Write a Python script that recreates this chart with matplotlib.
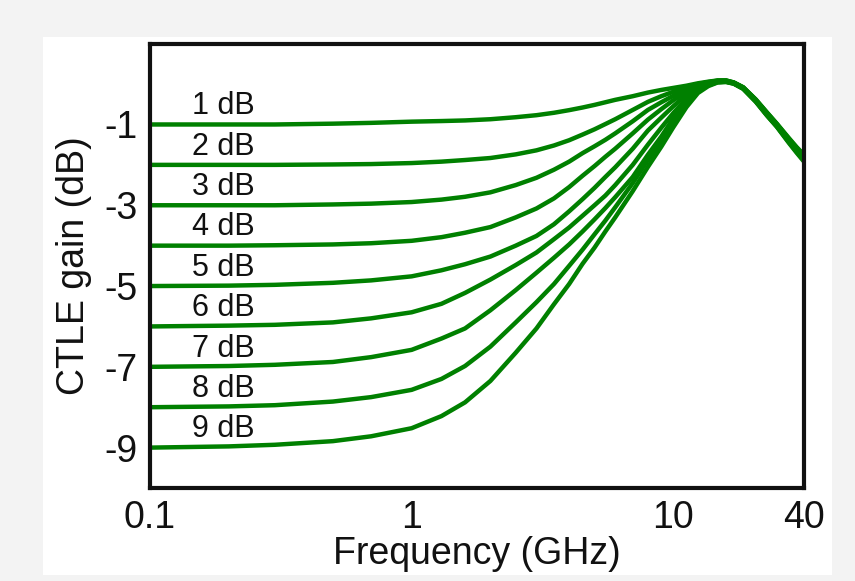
import numpy as np
import matplotlib
matplotlib.use("Agg")
import matplotlib.pyplot as plt
from matplotlib.patches import Rectangle

# ---------------- data ----------------
freq_ghz = [0.1, 0.2, 0.3, 0.5, 0.7, 1, 1.3, 1.6, 2, 2.5, 3, 3.5, 4, 4.5, 5, 5.5, 6,
            7, 8, 9, 10, 11.5, 13, 14.5, 16, 17.5, 19, 21, 24, 27, 30, 34, 37, 40]

gain_1db = [-1.0, -1.0, -1.0, -0.98, -0.96, -0.93, -0.915, -0.9, -0.87, -0.82, -0.77, -0.71,
            -0.645, -0.58, -0.515, -0.45, -0.39, -0.3, -0.21, -0.145, -0.095, -0.04, 0.02,
            0.06, 0.09, 0.09, 0.04, -0.08, -0.38, -0.70, -0.98, -1.33, -1.56, -1.75]
gain_2db = [-2.0, -2.0, -2.0, -1.99, -1.98, -1.955, -1.92, -1.88, -1.83, -1.74, -1.64, -1.52,
            -1.39, -1.25, -1.12, -0.99, -0.87, -0.64, -0.44, -0.3, -0.19, -0.08, 0.0,
            0.05, 0.085, 0.09, 0.04, -0.08, -0.39, -0.71, -0.99, -1.35, -1.58, -1.77]
gain_3db = [-3.0, -3.0, -3.0, -2.98, -2.96, -2.92, -2.86, -2.79, -2.68, -2.5, -2.32, -2.12,
            -1.92, -1.71, -1.54, -1.38, -1.22, -0.92, -0.64, -0.45, -0.29, -0.13, -0.02,
            0.04, 0.08, 0.08, 0.03, -0.09, -0.4, -0.72, -1.0, -1.36, -1.6, -1.79]
gain_4db = [-4.0, -4.0, -3.99, -3.97, -3.94, -3.88, -3.79, -3.68, -3.54, -3.3, -3.08, -2.83,
            -2.55, -2.27, -2.03, -1.8, -1.6, -1.22, -0.88, -0.62, -0.4, -0.19, -0.05,
            0.03, 0.075, 0.08, 0.03, -0.09, -0.4, -0.73, -1.01, -1.38, -1.62, -1.81]
gain_5db = [-5.0, -4.99, -4.97, -4.92, -4.86, -4.76, -4.61, -4.46, -4.27, -4.0, -3.76, -3.47,
            -3.15, -2.85, -2.57, -2.3, -2.06, -1.6, -1.15, -0.83, -0.55, -0.26, -0.08,
            0.02, 0.07, 0.07, 0.03, -0.1, -0.41, -0.74, -1.02, -1.39, -1.63, -1.83]
gain_6db = [-6.0, -5.98, -5.96, -5.9, -5.8, -5.65, -5.44, -5.17, -4.84, -4.48, -4.17, -3.84,
            -3.55, -3.26, -3.0, -2.76, -2.5, -2.0, -1.5, -1.08, -0.72, -0.36, -0.12,
            0.0, 0.06, 0.07, 0.02, -0.1, -0.42, -0.75, -1.03, -1.4, -1.65, -1.85]
gain_7db = [-7.0, -6.98, -6.95, -6.88, -6.76, -6.58, -6.3, -6.05, -5.6, -5.1, -4.67, -4.3,
            -3.97, -3.65, -3.35, -3.07, -2.8, -2.3, -1.75, -1.3, -0.85, -0.43, -0.15,
            -0.02, 0.05, 0.06, 0.02, -0.11, -0.42, -0.76, -1.04, -1.42, -1.66, -1.87]
gain_8db = [-8.0, -7.98, -7.95, -7.86, -7.75, -7.57, -7.3, -6.98, -6.5, -5.9, -5.4, -4.95,
            -4.5, -4.1, -3.72, -3.38, -3.05, -2.45, -1.88, -1.4, -0.95, -0.5, -0.18,
            -0.03, 0.05, 0.06, 0.01, -0.11, -0.43, -0.77, -1.05, -1.43, -1.68, -1.89]
gain_9db = [-9.0, -8.97, -8.93, -8.84, -8.72, -8.52, -8.22, -7.88, -7.35, -6.65, -6.05, -5.45,
            -4.95, -4.45, -4.05, -3.65, -3.3, -2.65, -2.05, -1.55, -1.07, -0.57, -0.22,
            -0.05, 0.04, 0.05, 0.01, -0.12, -0.44, -0.78, -1.06, -1.45, -1.7, -1.92]

curve_labels = ["1 dB", "2 dB", "3 dB", "4 dB", "5 dB", "6 dB", "7 dB", "8 dB", "9 dB"]
label_y = [-0.55, -1.55, -2.55, -3.55, -4.55, -5.55, -6.55, -7.55, -8.55]

x_ticks = [0.1, 1, 10, 40]
x_tick_labels = ["0.1", "1", "10", "40"]
y_ticks = [-1, -3, -5, -7, -9]
y_tick_labels = ["-1", "-3", "-5", "-7", "-9"]

curves = [gain_1db, gain_2db, gain_3db, gain_4db, gain_5db,
          gain_6db, gain_7db, gain_8db, gain_9db]

# ---------------- axis scale: log, with the 10-40 GHz span compressed ----
C = 0.83


def fwd(x):
    x = np.asarray(x, dtype=float)
    lx = np.log10(np.clip(x, 1e-12, None))
    return np.where(lx <= 1, lx, 1 + C * (lx - 1))


def inv(y):
    y = np.asarray(y, dtype=float)
    return np.where(y <= 1, 10.0 ** y, 10.0 ** (1 + (y - 1) / C))


plt.rcParams["font.family"] = ["Liberation Sans", "DejaVu Sans"]

fig = plt.figure(figsize=(8.55, 5.81), dpi=100)
fig.patch.set_facecolor("#f3f3f3")
fig.patches.append(Rectangle((43 / 855, 1 - 575 / 581), 789 / 855, 538 / 581,
                             transform=fig.transFigure, facecolor="white",
                             edgecolor="none", zorder=-10))

ax = fig.add_axes([150 / 855, 1 - 488 / 581, 654 / 855, 444.3 / 581])
ax.set_zorder(1)
ax.set_facecolor("white")
ax.set_xscale("function", functions=(fwd, inv))

for vals in curves:
    ax.plot(freq_ghz, vals, color="#008000", lw=3.2,
            solid_joinstyle="round", solid_capstyle="round", clip_on=True)

for txt, yv in zip(curve_labels, label_y):
    ax.text(0.19, yv, txt, ha="center", va="center", fontsize=22, color="#111111")

ax.set_xlim(0.1, 40)
ax.set_ylim(-10, 1)
ax.set_xticks(x_ticks)
ax.set_xticklabels(x_tick_labels)
ax.xaxis.set_minor_locator(matplotlib.ticker.NullLocator())
ax.set_yticks(y_ticks)
ax.set_yticklabels(y_tick_labels)
ax.tick_params(axis="both", length=0, labelsize=27, colors="#111111")
ax.tick_params(axis="x", pad=9)
ax.tick_params(axis="y", pad=9)

for sp in ax.spines.values():
    sp.set_linewidth(3.0)
    sp.set_color("#111111")

ax.set_xlabel("Frequency (GHz)", fontsize=27, color="#111111")
ax.set_ylabel("CTLE gain (dB)", fontsize=27, color="#111111")
ax.xaxis.set_label_coords(0.5, -0.107)
ax.yaxis.set_label_coords(-0.089, 0.5)

fig.savefig("out.png", dpi=100, facecolor=fig.get_facecolor())
